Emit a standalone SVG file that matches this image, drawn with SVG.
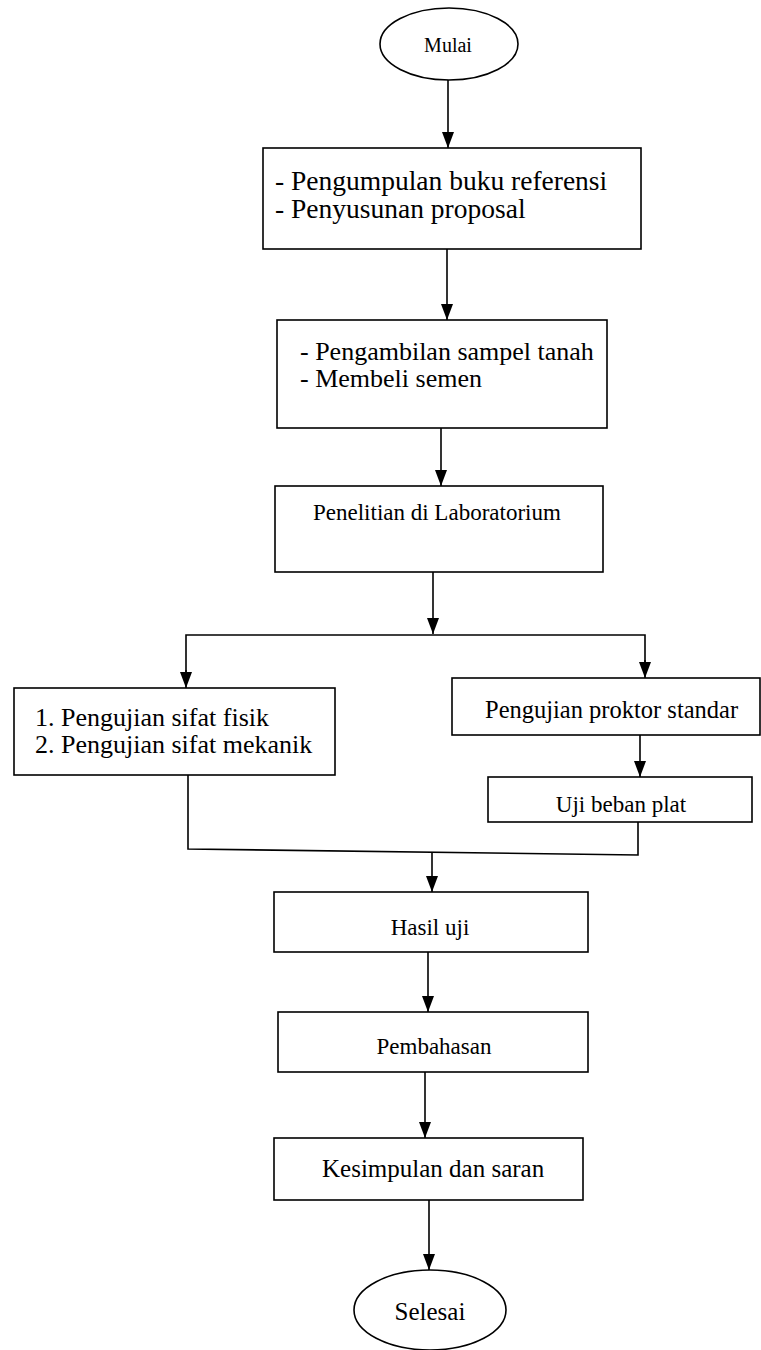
<svg xmlns="http://www.w3.org/2000/svg" width="761" height="1350" viewBox="0 0 761 1350">
<defs>
<marker id="arr" viewBox="0 0 16 12" refX="16" refY="6" markerWidth="16" markerHeight="12" markerUnits="userSpaceOnUse" orient="auto">
<path d="M0,0 L16,6 L0,12 Z" fill="#000"/>
</marker>
<style>
.box{fill:#fff;stroke:#000;stroke-width:1.6}
.ln{fill:none;stroke:#000;stroke-width:1.6}
.t{font-family:"Liberation Serif","Times New Roman",serif;font-size:23px;fill:#000}
.c{text-anchor:middle}
.big{font-size:26px}
.mid{font-size:24.5px}
</style>
</defs>
<rect width="761" height="1350" fill="#fff"/>
<g id="connectors">
<line class="ln" x1="448" y1="80" x2="448" y2="148" marker-end="url(#arr)"/>
<line class="ln" x1="447" y1="249" x2="447" y2="320" marker-end="url(#arr)"/>
<line class="ln" x1="441" y1="428" x2="441" y2="486" marker-end="url(#arr)"/>
<line class="ln" x1="433" y1="572" x2="433" y2="634" marker-end="url(#arr)"/>
<polyline class="ln" points="186,680 186,635 645,635 645,670"/>
<line class="ln" x1="186" y1="670" x2="186" y2="688" marker-end="url(#arr)"/>
<line class="ln" x1="645" y1="660" x2="645" y2="678" marker-end="url(#arr)"/>
<line class="ln" x1="640" y1="735" x2="640" y2="777" marker-end="url(#arr)"/>
<polyline class="ln" points="188,775 188,849 638,855 638,822"/>
<line class="ln" x1="432" y1="852" x2="432" y2="892" marker-end="url(#arr)"/>
<line class="ln" x1="428" y1="952" x2="428" y2="1012" marker-end="url(#arr)"/>
<line class="ln" x1="425" y1="1072" x2="425" y2="1138" marker-end="url(#arr)"/>
<line class="ln" x1="429" y1="1200" x2="429" y2="1270" marker-end="url(#arr)"/>
</g>
<g id="mulai">
<ellipse class="box" cx="449" cy="44" rx="69" ry="36"/>
<text class="t c" x="448" y="52" style="font-size:20px">Mulai</text>
</g>
<g id="referensi">
<rect class="box" x="263" y="148" width="378" height="101"/>
<text class="t" x="275" y="190" style="font-size:27.5px">- Pengumpulan buku referensi</text>
<text class="t" x="275" y="218" style="font-size:27.5px">- Penyusunan proposal</text>
</g>
<g id="sampel">
<rect class="box" x="277" y="320" width="330" height="108"/>
<text class="t big" x="300" y="360">- Pengambilan sampel tanah</text>
<text class="t big" x="300" y="387">- Membeli semen</text>
</g>
<g id="penelitian">
<rect class="box" x="275" y="486" width="328" height="86"/>
<text class="t" x="313" y="520">Penelitian di Laboratorium</text>
</g>
<g id="sifat">
<rect class="box" x="14" y="688" width="321" height="87"/>
<text class="t big" x="35" y="726">1. Pengujian sifat fisik</text>
<text class="t big" x="35" y="753">2. Pengujian sifat mekanik</text>
</g>
<g id="proktor">
<rect class="box" x="452" y="678" width="308" height="57"/>
<text class="t mid" x="485" y="718">Pengujian proktor standar</text>
</g>
<g id="plat">
<rect class="box" x="488" y="777" width="264" height="45"/>
<text class="t c" x="621" y="812">Uji beban plat</text>
</g>
<g id="hasil">
<rect class="box" x="274" y="892" width="314" height="60"/>
<text class="t c" x="430" y="935">Hasil uji</text>
</g>
<g id="pembahasan">
<rect class="box" x="278" y="1012" width="310" height="60"/>
<text class="t c" x="434" y="1054">Pembahasan</text>
</g>
<g id="kesimpulan">
<rect class="box" x="274" y="1138" width="309" height="62"/>
<text class="t" x="322" y="1177" style="font-size:25px">Kesimpulan dan saran</text>
</g>
<g id="selesai">
<ellipse class="box" cx="430" cy="1310" rx="76" ry="40"/>
<text class="t c" x="430" y="1320" style="font-size:25px">Selesai</text>
</g>
</svg>
